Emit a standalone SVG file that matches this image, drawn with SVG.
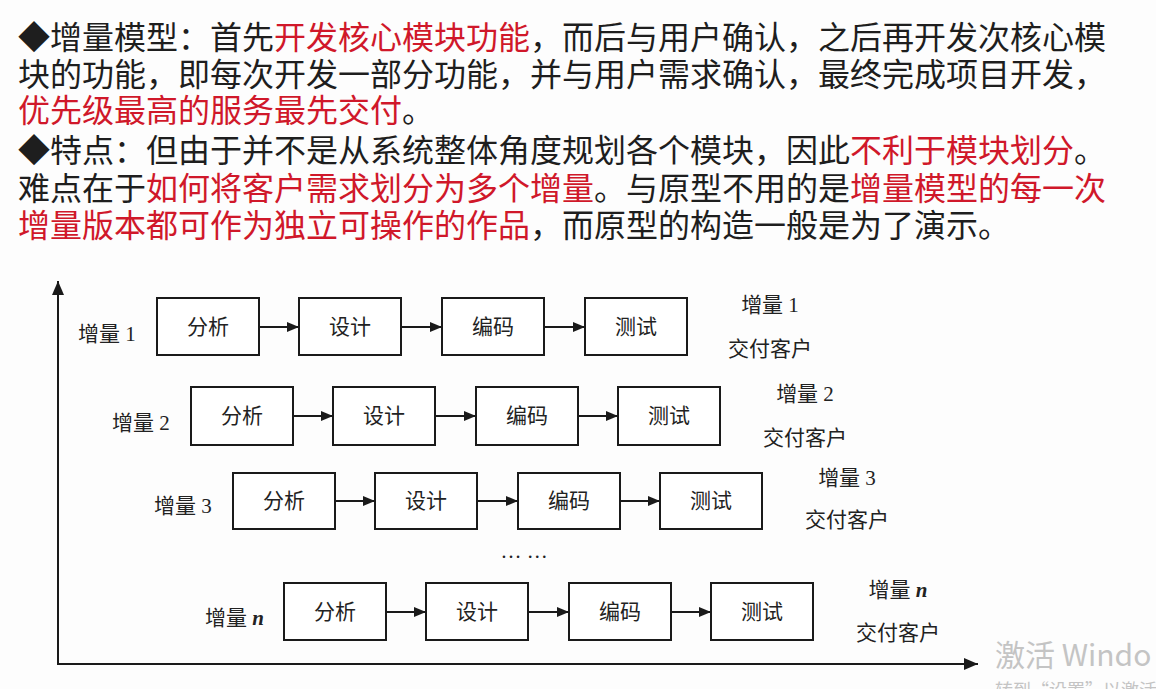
<svg xmlns="http://www.w3.org/2000/svg" width="1156" height="689" viewBox="0 0 1156 689">
<style>
.t{font-family:"Noto Sans CJK SC","Noto Sans",sans-serif;font-size:32px;fill:#1e1e1e}
.r{fill:#d0182a}
.box{fill:#fff;stroke:#1a1a1a;stroke-width:2}
.bl{font-family:"Liberation Serif","Noto Sans CJK SC",serif;font-size:21px;fill:#222;text-anchor:middle}
.lb{font-family:"Liberation Serif","Noto Sans CJK SC",serif;font-size:21px;fill:#222}
.n{font-style:italic;font-weight:bold}
.con{stroke:#1a1a1a;stroke-width:2;fill:none}
.wm{font-family:"Noto Sans CJK SC","Noto Sans",sans-serif;fill:#c4c4c4}
</style>
<defs>
<marker id="ah" markerWidth="12" markerHeight="10" refX="12" refY="5" orient="auto" markerUnits="userSpaceOnUse">
<path d="M0,0 L12,5 L0,10 z" fill="#1a1a1a"/>
</marker>
<marker id="ax" markerWidth="14" markerHeight="12" refX="14" refY="6" orient="auto" markerUnits="userSpaceOnUse">
<path d="M0,0 L14,6 L0,12 z" fill="#1a1a1a"/>
</marker>
</defs>
<rect width="1156" height="689" fill="#fdfdfd"/>
<g id="text">
<text class="t" x="18" y="49">◆增量模型：首先<tspan class="r">开发核心模块功能</tspan>，而后与用户确认，之后再开发次核心模</text>
<text class="t" x="18" y="86">块的功能，即每次开发一部分功能，并与用户需求确认，最终完成项目开发，</text>
<text class="t" x="18" y="122"><tspan class="r">优先级最高的服务最先交付</tspan>。</text>
<text class="t" x="18" y="162">◆特点：但由于并不是从系统整体角度规划各个模块，因此<tspan class="r">不利于模块划分</tspan>。</text>
<text class="t" x="18" y="200">难点在于<tspan class="r">如何将客户需求划分为多个增量</tspan>。与原型不用的是<tspan class="r">增量模型的每一次</tspan></text>
<text class="t" x="18" y="237"><tspan class="r">增量版本都可作为独立可操作的作品</tspan>，而原型的构造一般是为了演示。</text>
</g>
<g id="axes">
<line class="con" x1="58" y1="664" x2="58" y2="281" marker-end="url(#ax)"/>
<line class="con" x1="57" y1="664" x2="978" y2="664" marker-end="url(#ax)"/>
</g>
<g id="connectors">
<line class="con" x1="259" y1="327" x2="299" y2="327" marker-end="url(#ah)"/>
<line class="con" x1="401" y1="327" x2="442" y2="327" marker-end="url(#ah)"/>
<line class="con" x1="544" y1="327" x2="585" y2="327" marker-end="url(#ah)"/>
<line class="con" x1="293" y1="416" x2="333" y2="416" marker-end="url(#ah)"/>
<line class="con" x1="435" y1="416" x2="476" y2="416" marker-end="url(#ah)"/>
<line class="con" x1="578" y1="416" x2="618" y2="416" marker-end="url(#ah)"/>
<line class="con" x1="335" y1="501" x2="375" y2="501" marker-end="url(#ah)"/>
<line class="con" x1="477" y1="501" x2="518" y2="501" marker-end="url(#ah)"/>
<line class="con" x1="620" y1="501" x2="660" y2="501" marker-end="url(#ah)"/>
<line class="con" x1="386" y1="612" x2="426" y2="612" marker-end="url(#ah)"/>
<line class="con" x1="528" y1="612" x2="569" y2="612" marker-end="url(#ah)"/>
<line class="con" x1="671" y1="612" x2="711" y2="612" marker-end="url(#ah)"/>
</g>
<g id="row1">
<text class="lb" x="78" y="341">增量 1</text>
<g id="r1-a"><rect class="box" x="157" y="298" width="102" height="57"/><text class="bl" x="208" y="334">分析</text></g>
<g id="r1-b"><rect class="box" x="299" y="298" width="102" height="57"/><text class="bl" x="350" y="334">设计</text></g>
<g id="r1-c"><rect class="box" x="442" y="298" width="102" height="57"/><text class="bl" x="493" y="334">编码</text></g>
<g id="r1-d"><rect class="box" x="585" y="298" width="102" height="57"/><text class="bl" x="636" y="334">测试</text></g>
<text class="bl" x="770" y="312">增量 1</text>
<text class="bl" x="770" y="356">交付客户</text>
</g>
<g id="row2">
<text class="lb" x="112" y="430">增量 2</text>
<g id="r2-a"><rect class="box" x="191" y="387" width="102" height="58"/><text class="bl" x="242" y="423">分析</text></g>
<g id="r2-b"><rect class="box" x="333" y="387" width="102" height="58"/><text class="bl" x="384" y="423">设计</text></g>
<g id="r2-c"><rect class="box" x="476" y="387" width="102" height="58"/><text class="bl" x="527" y="423">编码</text></g>
<g id="r2-d"><rect class="box" x="618" y="387" width="102" height="58"/><text class="bl" x="669" y="423">测试</text></g>
<text class="bl" x="805" y="401">增量 2</text>
<text class="bl" x="805" y="445">交付客户</text>
</g>
<g id="row3">
<text class="lb" x="154" y="513">增量 3</text>
<g id="r3-a"><rect class="box" x="233" y="473" width="102" height="56"/><text class="bl" x="284" y="508">分析</text></g>
<g id="r3-b"><rect class="box" x="375" y="473" width="102" height="56"/><text class="bl" x="426" y="508">设计</text></g>
<g id="r3-c"><rect class="box" x="518" y="473" width="102" height="56"/><text class="bl" x="569" y="508">编码</text></g>
<g id="r3-d"><rect class="box" x="660" y="473" width="102" height="56"/><text class="bl" x="711" y="508">测试</text></g>
<text class="bl" x="847" y="485">增量 3</text>
<text class="bl" x="847" y="527">交付客户</text>
</g>
<text class="bl" x="524" y="558">… …</text>
<g id="rown">
<text class="lb" x="205" y="625">增量 <tspan class="n">n</tspan></text>
<g id="rn-a"><rect class="box" x="284" y="583" width="102" height="57"/><text class="bl" x="335" y="619">分析</text></g>
<g id="rn-b"><rect class="box" x="426" y="583" width="102" height="57"/><text class="bl" x="477" y="619">设计</text></g>
<g id="rn-c"><rect class="box" x="569" y="583" width="102" height="57"/><text class="bl" x="620" y="619">编码</text></g>
<g id="rn-d"><rect class="box" x="711" y="583" width="102" height="57"/><text class="bl" x="762" y="619">测试</text></g>
<text class="bl" x="898" y="597">增量 <tspan class="n">n</tspan></text>
<text class="bl" x="898" y="640">交付客户</text>
</g>
<g id="watermark">
<text class="wm" x="995" y="666" font-size="30">激活 Windo</text>
<text class="wm" x="995" y="697" font-size="18">转到“设置”以激活 Windows。</text>
</g>
</svg>
